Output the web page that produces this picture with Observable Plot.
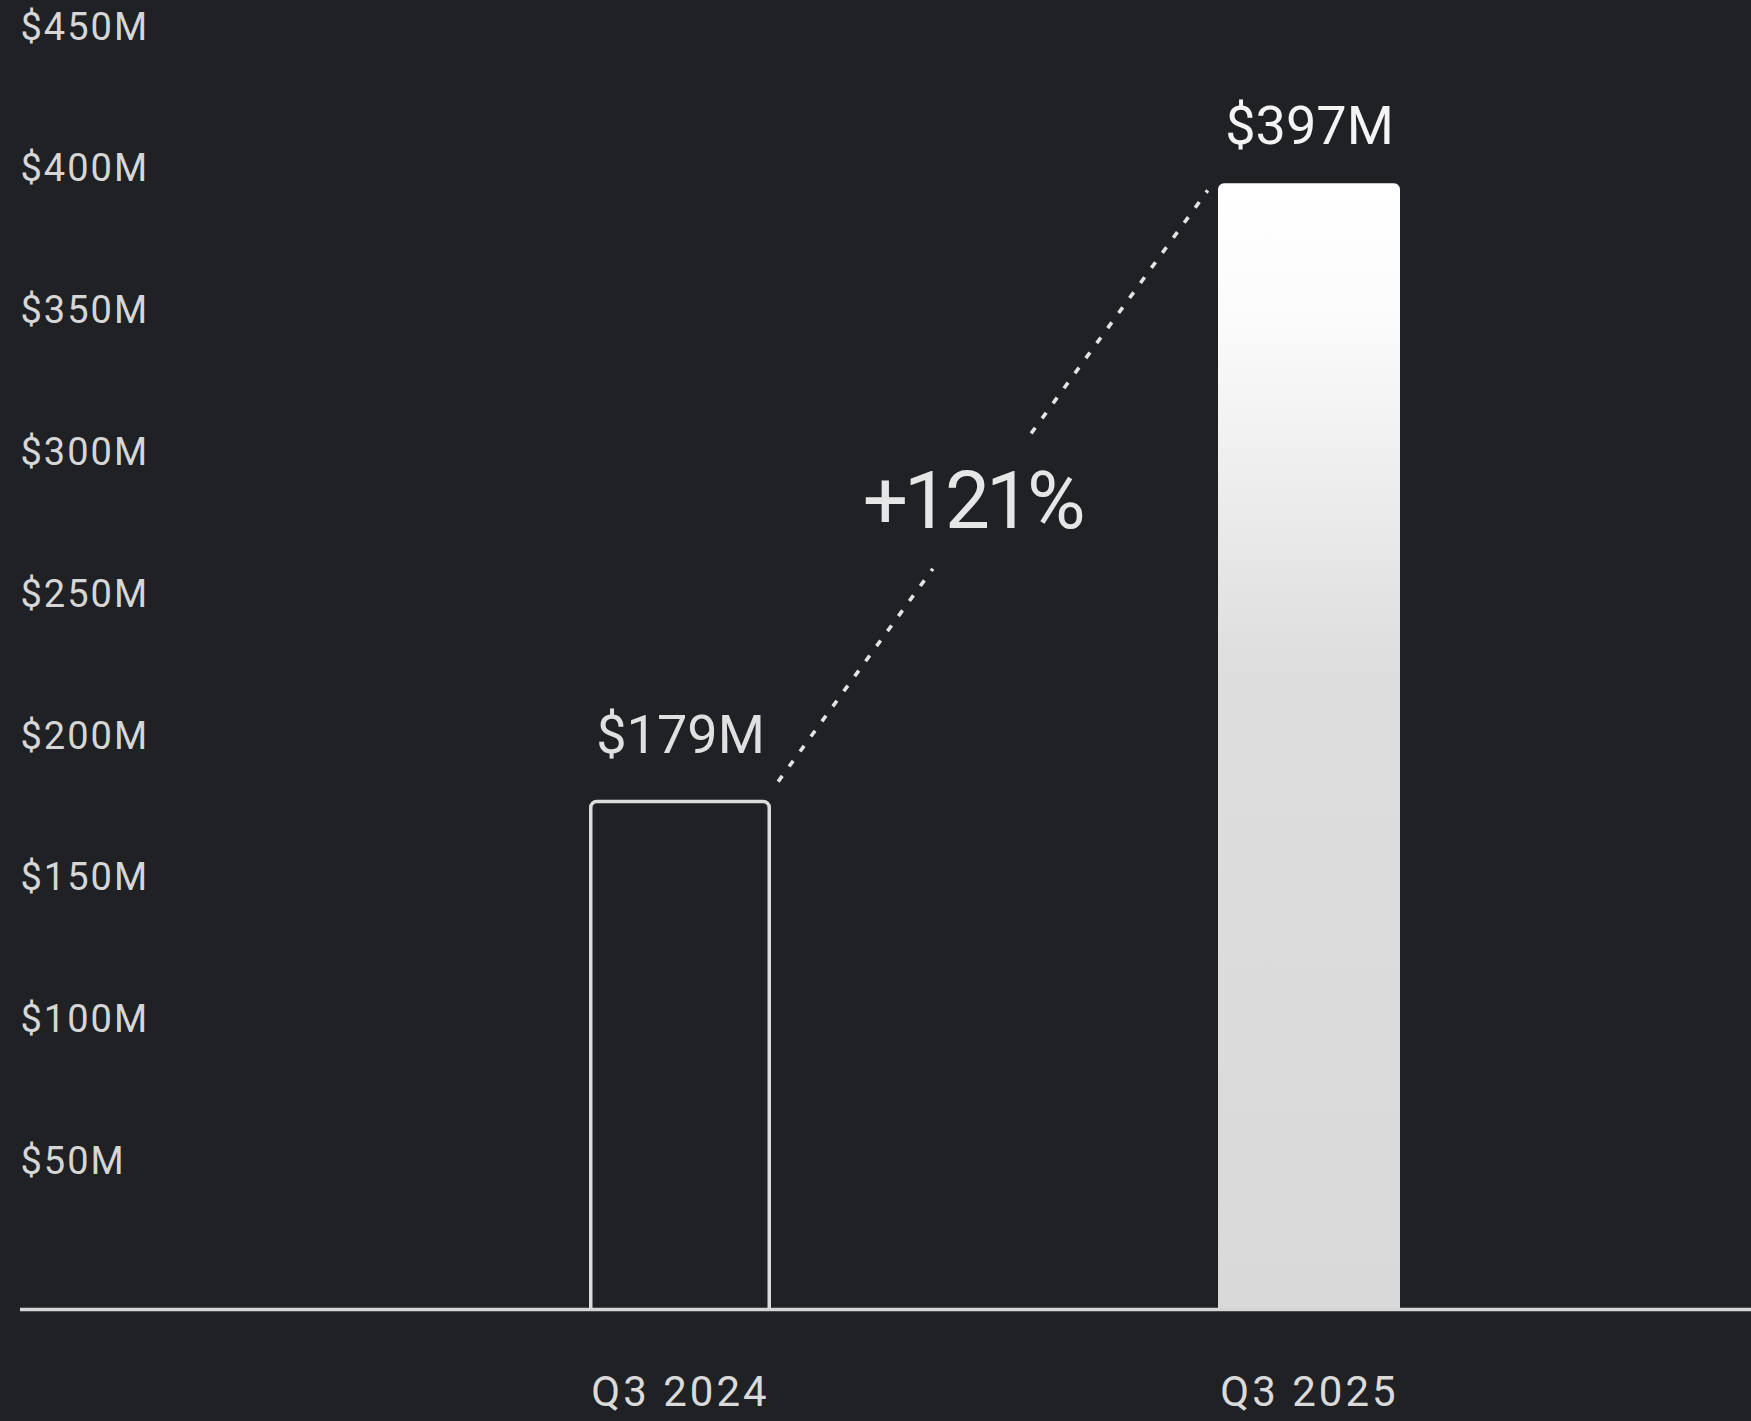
<!DOCTYPE html>
<html>
<head>
<meta charset="utf-8">
<script src="https://cdn.jsdelivr.net/npm/d3@7"></script>
<script src="https://cdn.jsdelivr.net/npm/@observablehq/plot@0.6"></script>
<style>
  html, body { margin: 0; padding: 0; background: #1f2124; overflow: hidden; }
  #chart svg { display: block; }
  g[aria-label="y-axis tick label"] { letter-spacing: 2px; }
  g[aria-label="x-axis tick label"] { letter-spacing: 3px; }
  g[aria-label="growth"] text { letter-spacing: -4px; }
</style>
</head>
<body>
<div id="chart"></div>
<script>
// ---- data ----
const periods = ["Q3 2024", "Q3 2025"];
const revenue = [179, 397];            // $M
const valueLabels = ["$179M", "$397M"];
const yTicks = [50, 100, 150, 200, 250, 300, 350, 400, 450];
const growthLabel = "+121%";

const rows = periods.map((p, i) => ({period: p, revenue: revenue[i], label: valueLabels[i]}));
const prev = rows.filter(d => d.period === periods[0]);
const curr = rows.filter(d => d.period === periods[1]);

const NS = "http://www.w3.org/2000/svg";

function gradientDefs() {
  const defs = document.createElementNS(NS, "defs");
  const g = document.createElementNS(NS, "linearGradient");
  g.setAttribute("id", "barGradient");
  g.setAttribute("x1", "0"); g.setAttribute("y1", "0");
  g.setAttribute("x2", "0"); g.setAttribute("y2", "1");
  [[0, "#ffffff"], [0.12, "#fbfbfb"], [0.42, "#dedede"], [1, "#d9d9d9"]].forEach(([o, c]) => {
    const s = document.createElementNS(NS, "stop");
    s.setAttribute("offset", o);
    s.setAttribute("stop-color", c);
    g.appendChild(s);
  });
  defs.appendChild(g);
  return defs;
}

function growthConnector(index, scales) {
  const {x, y} = scales;
  const bw = typeof x.bandwidth === "function" ? x.bandwidth() : 0;
  const ax = x(periods[0]) + bw, ay = y(revenue[0]) - 10;
  const bx = x(periods[1]),      by = y(revenue[1]) - 7;
  const pt = t => [ax + (bx - ax) * t, ay + (by - ay) * t];
  const g = document.createElementNS(NS, "g");
  g.setAttribute("aria-label", "growth");
  [[0.016, 0.362], [0.582, 0.977]].forEach(([t0, t1]) => {
    const [x0, y0] = pt(t0), [x1, y1] = pt(t1);
    const l = document.createElementNS(NS, "line");
    l.setAttribute("x1", x0); l.setAttribute("y1", y0);
    l.setAttribute("x2", x1); l.setAttribute("y2", y1);
    l.setAttribute("stroke", "#e4e4e4");
    l.setAttribute("stroke-width", 3.6);
    l.setAttribute("stroke-dasharray", "7 11.6");
    g.appendChild(l);
  });
  const [tx, ty] = pt(0.47);
  const t = document.createElementNS(NS, "text");
  t.setAttribute("x", tx - 9);
  t.setAttribute("y", ty);
  t.setAttribute("dy", "0.32em");
  t.setAttribute("text-anchor", "middle");
  t.setAttribute("fill", "#e6e6e6");
  t.setAttribute("font-size", 80);
  t.setAttribute("font-family", "Roboto");
  t.textContent = growthLabel;
  g.appendChild(t);
  return g;
}

const chart = Plot.plot({
  width: 1751,
  height: 1421,
  marginLeft: 20,
  marginRight: 0,
  marginTop: 33,
  marginBottom: 112,
  style: {background: "#1f2124", color: "#d9d9d9", fontFamily: "Roboto"},
  x: {domain: periods, range: [365.7, 1623.7], paddingInner: 0.71, paddingOuter: 0.355, axis: null},
  y: {domain: [0, 450], axis: null},
  marks: [
    gradientDefs,
    Plot.axisY({
      ticks: yTicks, tickSize: 0, tickPadding: 0, textAnchor: "start",
      tickFormat: d => `$${d}M`, fontSize: 38, dy: -6, label: null, fill: "#d6d6d6"
    }),
    Plot.axisX({tickSize: 0, tickPadding: 67, fontSize: 42, label: null, fill: "#dadada"}),
    Plot.barY(prev, {
      x: "period", y: "revenue", fill: "none", stroke: "#dcdcdc", strokeWidth: 3.5,
      rx: 6, insetLeft: 1.75, insetRight: 1.75, insetBottom: -14, clip: true
    }),
    Plot.barY(curr, {
      x: "period", y: "revenue", fill: "url(#barGradient)",
      rx: 6, insetBottom: -14, clip: true
    }),
    Plot.ruleY([0], {stroke: "#d6d6d6", strokeWidth: 3.5}),
    Plot.text(prev, {x: "period", y: "revenue", text: "label", lineAnchor: "bottom", dy: -49, fontSize: 54, fill: "#e0e0e0"}),
    Plot.text(curr, {x: "period", y: "revenue", text: "label", lineAnchor: "bottom", dy: -40, fontSize: 54, fill: "#f4f4f4"}),
    growthConnector
  ]
});
document.getElementById("chart").appendChild(chart);
</script>
</body>
</html>
